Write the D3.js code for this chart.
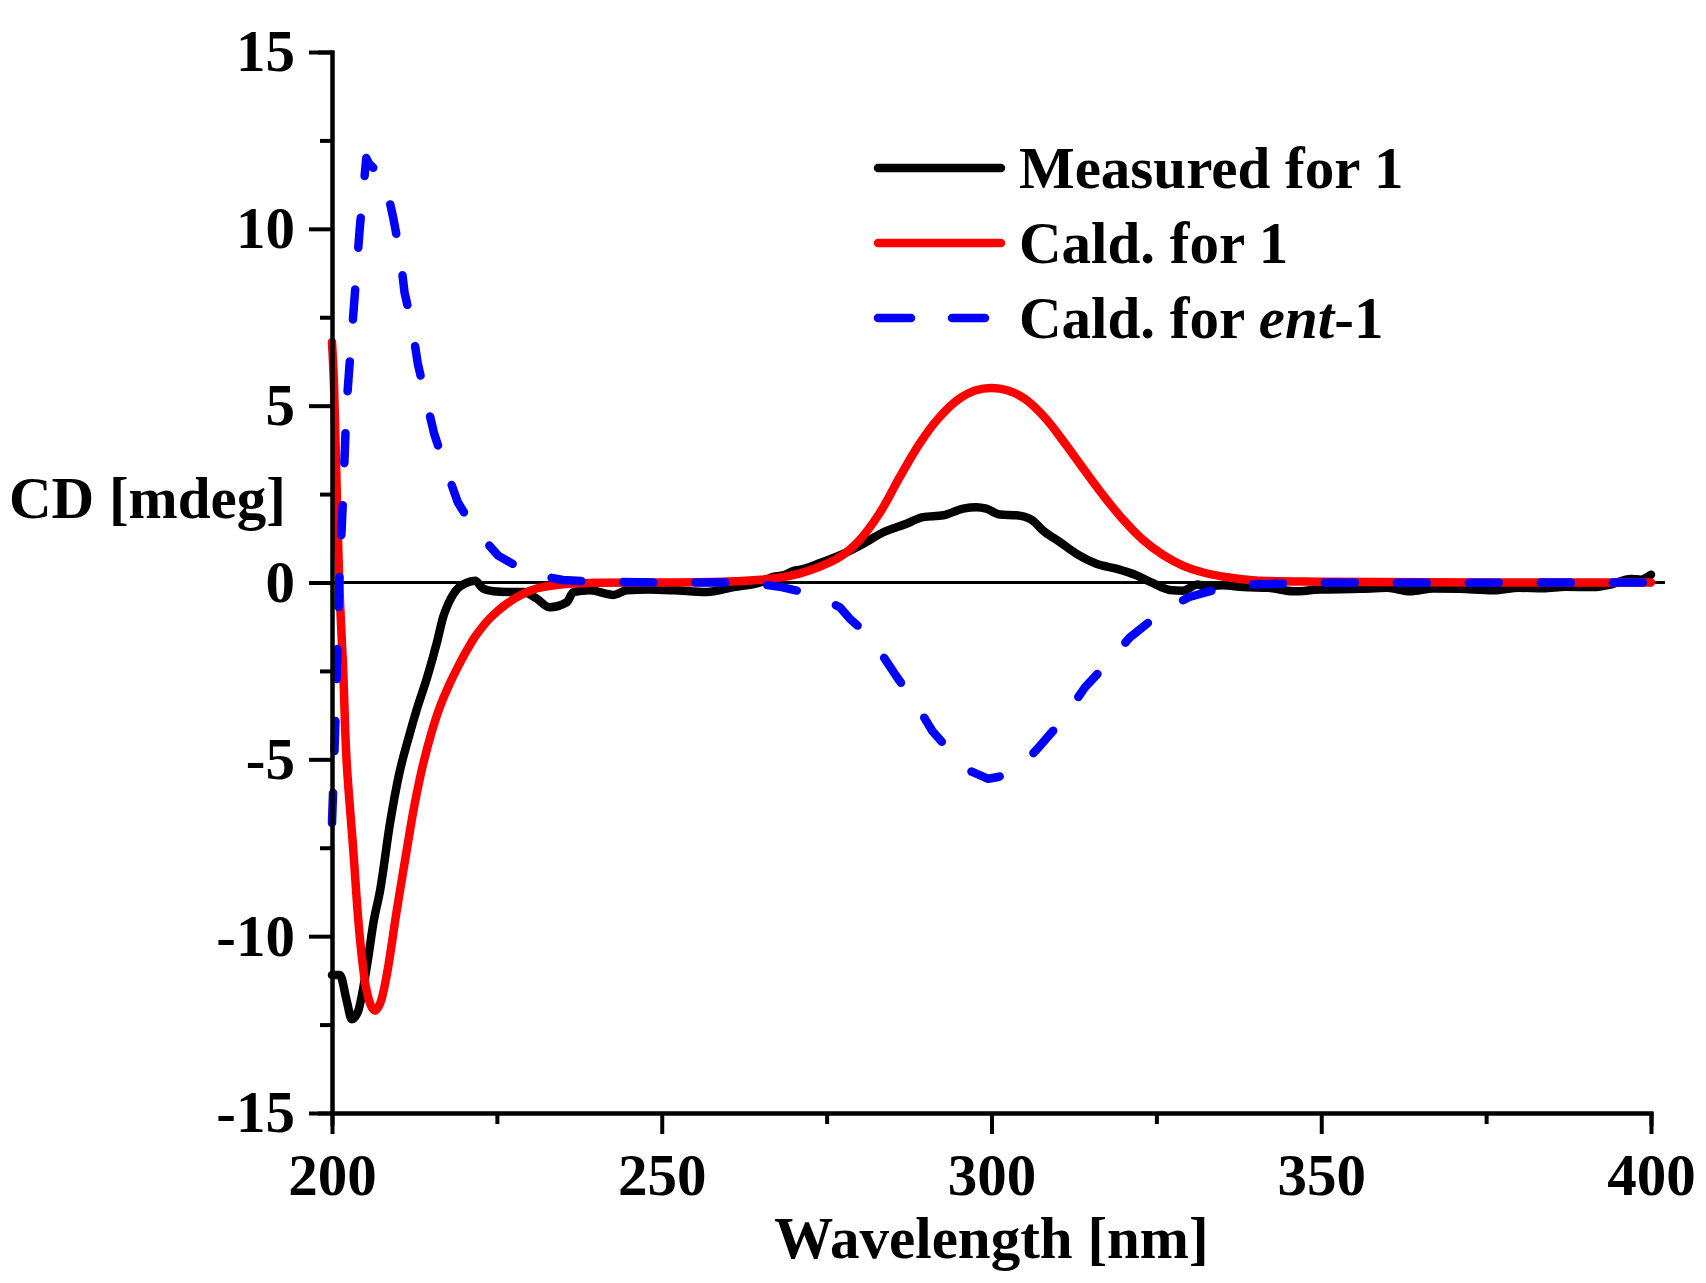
<!DOCTYPE html>
<html>
<head>
<meta charset="utf-8">
<script src="https://cdn.jsdelivr.net/npm/d3@7"></script>
<style>
  body { margin: 0; background: #fff; }
  svg { display: block; }
  text { font-family: "Liberation Serif", "Times New Roman", serif; font-weight: bold; }
</style>
</head>
<body>
<svg id="chart" width="1706" height="1283"></svg>
<script>
// Measured CD spectrum (nm, mdeg)
const measuredX = [200, 200.5, 201.2, 202.2, 203, 204, 204.5, 205.5, 206.3, 207.3, 208.8, 210.2, 211.6, 213, 214.4,
  215.9, 216.9, 217.4, 218.9, 220.3, 221.7, 222.9, 224.5, 226.5, 229, 231, 233, 235.6, 236.6, 239.1, 242.7, 244.7,
  248, 251.8, 256.8, 260.9, 264.9, 266.9, 268.4, 270, 271, 274, 277.5, 280.5, 283.6, 287.1, 289.6, 292.7, 295.7,
  297.7, 299.2, 301.3, 303.8, 306.1, 307.8, 310.4, 312.9, 315.9, 318.9, 322, 324.5, 327, 329, 331.3, 332.1, 335,
  338.2, 342, 345.8, 349.8, 355.9, 360, 363.5, 367, 371, 376.1, 380, 383.7, 387, 391.3, 394, 396.9, 398.5, 400];
const measuredY = [-11.1, -11.1, -11.1, -11.8, -12.35, -12.1, -11.7, -10.6, -9.6, -8.7, -6.8, -5.4, -4.4, -3.5, -2.7,
  -1.7, -0.95, -0.7, -0.2, -0.02, 0.05, -0.17, -0.25, -0.27, -0.27, -0.45, -0.7, -0.56, -0.27, -0.22, -0.35, -0.22,
  -0.2, -0.22, -0.27, -0.13, 0, 0.16, 0.2, 0.33, 0.36, 0.55, 0.81, 1.09, 1.42, 1.66, 1.85, 1.9, 2.09,
  2.13, 2.09, 1.92, 1.9, 1.77, 1.47, 1.14, 0.81, 0.53, 0.39, 0.2, -0.02, -0.21, -0.23, -0.06, -0.1, -0.08,
  -0.13, -0.15, -0.25, -0.2, -0.18, -0.15, -0.25, -0.17, -0.18, -0.22, -0.15, -0.16, -0.12, -0.13, -0.05, 0.1, 0.08, 0.22];

// Calculated ECD for 1
const calcX = [200, 200.3, 200.6, 201.1, 201.7, 202.2, 203.2, 204.2, 205.2, 206, 206.6, 207.3, 208.3, 209.8, 211.3,
  212.5, 213.8, 215, 216.4, 218, 219, 220.5, 221.9, 224, 226.5, 229, 231, 235, 240, 250, 260, 265, 268, 271, 274,
  277, 280, 283, 286, 289, 292, 295, 297.5, 300, 302.5, 305, 308, 311, 314, 317, 320, 323, 326, 329, 332, 336, 340, 350, 400];
const calcY = [6.8, 5.6, 3.5, 0, -2.5, -5, -7.5, -10, -11.5, -12.0, -12.1, -11.9, -11.1, -9.3, -7.6,
  -6.3, -5.15, -4.3, -3.5, -2.8, -2.42, -1.9, -1.48, -1.0, -0.6, -0.32, -0.17, -0.05, -0.01, 0, 0.03, 0.08, 0.14, 0.26, 0.45,
  0.72, 1.2, 1.95, 2.95, 3.9, 4.65, 5.18, 5.43, 5.5, 5.43, 5.2, 4.68, 3.97, 3.2, 2.45, 1.77, 1.2, 0.78, 0.48, 0.29, 0.14, 0.06, 0.02, 0];

// Calculated ECD for ent-1
const entX = [200, 200.6, 201.1, 201.7, 202.2, 203.2, 204.2, 205.2, 205.6, 208, 209.3, 210.3, 211, 212.1, 213, 214.1,
  215.5, 217.1, 219.1, 221.4, 225.2, 230, 235, 240, 250, 262, 265, 268.2, 271, 274.5, 277, 278.5, 280.5, 282.3, 285.5,
  288.5, 291, 294.3, 297, 299.5, 301, 303.7, 305.5, 307.4, 310.7, 314.2, 317.5, 321, 324.8, 327.5, 330, 333, 336, 340, 350, 400];
const entY = [-6.8, -3.5, 0, 2.5, 5, 7.5, 10, 12.0, 11.85, 11.4, 10.3, 9.3, 8.2, 7.3, 6.2, 5.3,
  4.2, 3.3, 2.26, 1.56, 0.76, 0.25, 0.07, 0.02, 0, 0, -0.05, -0.13, -0.25, -0.46, -0.7, -1.02, -1.35, -1.73, -2.63,
  -3.42, -4.19, -4.9, -5.35, -5.55, -5.5, -5.32, -5.0, -4.61, -3.9, -2.96, -2.3, -1.55, -0.98, -0.65, -0.41, -0.25, -0.12, -0.05, -0.01, 0];

const xMajor = [200, 250, 300, 350, 400];
const xMinor = [225, 275, 325, 375];
const yMajor = [-15, -10, -5, 0, 5, 10, 15];
const yMinor = [-12.5, -7.5, -2.5, 2.5, 7.5, 12.5];

const legendLabels = ['Measured for 1', 'Cald. for 1', 'Cald. for ent-1'];
const seriesColors = ['#000000', '#ff0000', '#0000ff'];

const FONT = 59;
const svg = d3.select('#chart');

const x = d3.scaleLinear().domain([200, 400]).range([332, 1651]);
const y = d3.scaleLinear().domain([-15, 15]).range([1113, 52]);

// zero baseline
svg.append('line')
  .attr('x1', x(200)).attr('x2', 1665)
  .attr('y1', y(0)).attr('y2', y(0))
  .attr('stroke', '#000').attr('stroke-width', 3);

const series = [
  { xs: measuredX, ys: measuredY, color: seriesColors[0], curve: d3.curveMonotoneX, dash: null },
  { xs: calcX, ys: calcY, color: seriesColors[1], curve: d3.curveCatmullRom.alpha(0.5), dash: null },
  { xs: entX, ys: entY, color: seriesColors[2], curve: d3.curveLinear, dash: '30,42' },
];

series.forEach(s => {
  const pts = s.xs.map((v, i) => [v, s.ys[i]]);
  const line = d3.line().x(d => x(d[0])).y(d => y(d[1])).curve(s.curve);
  svg.append('path')
    .attr('d', line(pts))
    .attr('fill', 'none')
    .attr('stroke', s.color)
    .attr('stroke-width', 8.5)
    .attr('stroke-linejoin', 'round')
    .attr('stroke-linecap', 'round')
    .attr('stroke-dasharray', s.dash);
});

// axes: minor ticks first, then major with labels
function styleAxis(g) {
  g.selectAll('path, line').attr('stroke', '#000').attr('stroke-width', 4);
  g.selectAll('text').attr('fill', '#000').attr('font-size', FONT)
    .attr('font-family', '"Liberation Serif", "Times New Roman", serif').attr('font-weight', 'bold');
}

svg.append('g').attr('transform', `translate(0,${y(-15)})`)
  .call(d3.axisBottom(x).tickValues(xMinor).tickSize(11).tickFormat(''))
  .call(styleAxis);
svg.append('g').attr('transform', `translate(0,${y(-15)})`)
  .call(d3.axisBottom(x).tickValues(xMajor).tickSize(21).tickSizeOuter(0).tickPadding(19).tickFormat(d => String(d)))
  .call(styleAxis);

svg.append('g').attr('transform', `translate(${x(200)},0)`)
  .call(d3.axisLeft(y).tickValues(yMinor).tickSize(12).tickFormat(''))
  .call(styleAxis);
svg.append('g').attr('transform', `translate(${x(200)},0)`)
  .call(d3.axisLeft(y).tickValues(yMajor).tickSize(23).tickSizeOuter(0).tickPadding(14).tickFormat(d => String(d)))
  .call(styleAxis);

svg.selectAll('.domain').attr('stroke-linecap', 'square');

// axis titles
svg.append('text')
  .attr('x', (x(200) + x(400)) / 2).attr('y', 1258)
  .attr('text-anchor', 'middle').attr('font-size', FONT)
  .text('Wavelength [nm]');
svg.append('text')
  .attr('x', 9).attr('y', 518)
  .attr('font-size', FONT)
  .text('CD [mdeg]');

// legend
const legend = svg.append('g').attr('transform', 'translate(878,168)');
legendLabels.forEach((label, i) => {
  const row = legend.append('g').attr('transform', `translate(0,${i * 75})`);
  row.append('line')
    .attr('x1', 0).attr('x2', 123).attr('y1', 0).attr('y2', 0)
    .attr('stroke', seriesColors[i]).attr('stroke-width', 8.5)
    .attr('stroke-linecap', 'round')
    .attr('stroke-dasharray', i === 2 ? '33,41' : null);
  const t = row.append('text').attr('x', 141).attr('y', 20).attr('font-size', FONT);
  const m = label.match(/^(.*for )(ent)(-1)$/);
  if (m) {
    t.append('tspan').text(m[1]);
    t.append('tspan').attr('font-style', 'italic').text(m[2]);
    t.append('tspan').text(m[3]);
  } else {
    t.text(label);
  }
});
</script>
</body>
</html>
